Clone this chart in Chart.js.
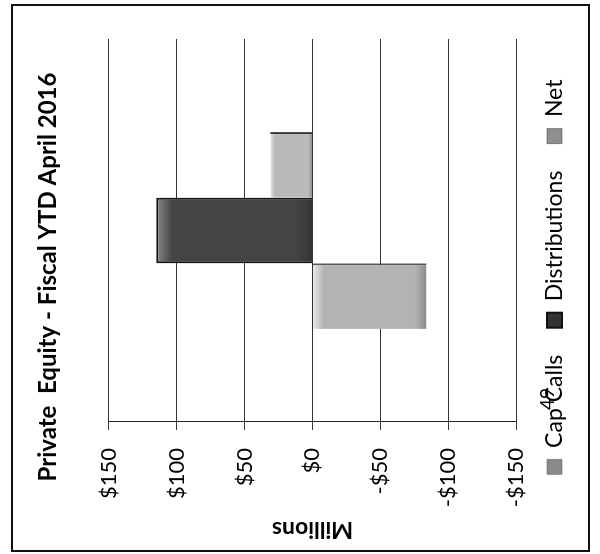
<!DOCTYPE html>
<html>
<head>
<meta charset="utf-8">
<script src="https://cdn.jsdelivr.net/npm/chart.js@4.4.1/dist/chart.umd.min.js"></script>
<style>
  html, body { margin: 0; padding: 0; background: #fff; }
  body { width: 600px; height: 554px; position: relative; overflow: hidden; }
  #frame {
    position: absolute; left: 11px; top: 4px; width: 579px; height: 548px;
    box-sizing: border-box; border: 2px solid #111;
  }
  /* the chart is an upright column chart turned a quarter left */
  #wrap {
    position: absolute; left: 23px; top: -23px; width: 554px; height: 600px;
    transform: rotate(-90deg);
  }
</style>
</head>
<body>
<div id="frame"></div>
<div id="wrap"><canvas id="pe" width="554" height="600"></canvas></div>
<script>
const titleText = "Private  Equity - Fiscal YTD April 2016";
const categories = [""];
const seriesNames = ["Cap Calls", "Distributions", "Net"];
const capCalls = [-84];
const distributions = [115];
const net = [31];
const tickValues = [-150, -100, -50, 0, 50, 100, 150];
const pageNote = "49";

const FONT = "Lato, 'DejaVu Sans', sans-serif";

// light strip at the far end, darker towards the zero line
function barFill(light, mid, dark) {
  return (c) => {
    const chart = c.chart;
    const y = chart.scales && chart.scales.y;
    if (!chart.chartArea || !y || c.raw === undefined) return mid;
    const v = c.raw;
    const a = y.getPixelForValue(Math.max(v, 0));
    const b = y.getPixelForValue(Math.min(v, 0));
    if (!isFinite(a) || !isFinite(b) || a === b) return mid;
    const g = chart.ctx.createLinearGradient(0, a, 0, b);
    g.addColorStop(0, light);
    g.addColorStop(0.1, mid);
    g.addColorStop(0.9, mid);
    g.addColorStop(1, dark);
    return g;
  };
}

const noteText = {
  id: "noteText",
  afterDraw(chart) {
    const { ctx, chartArea } = chart;
    ctx.save();
    ctx.font = "19px " + FONT;
    ctx.fillStyle = "#000";
    ctx.textAlign = "center";
    ctx.textBaseline = "middle";
    ctx.fillText(pageNote, chartArea.left + 23, chartArea.bottom + 32);
    ctx.restore();
  }
};

new Chart(document.getElementById("pe"), {
  type: "bar",
  data: {
    labels: categories,
    datasets: [
      {
        label: seriesNames[0], data: capCalls,
        backgroundColor: barFill("#ececec", "#b3b3b3", "#8a8a8a"),
        borderColor: "#555", borderWidth: { right: 2, top: 0, left: 0, bottom: 0 }
      },
      {
        label: seriesNames[1], data: distributions,
        backgroundColor: barFill("#8a8a8a", "#444", "#333"),
        borderColor: "#111", borderWidth: 2
      },
      {
        label: seriesNames[2], data: net,
        backgroundColor: barFill("#ececec", "#bababa", "#8f8f8f"),
        borderColor: "#333", borderWidth: { right: 2, top: 0, left: 0, bottom: 0 }
      }
    ]
  },
  options: {
    responsive: false,
    animation: false,
    devicePixelRatio: 1,
    layout: { padding: { left: 0, right: 0, top: 0, bottom: 24 } },
    datasets: { bar: { barPercentage: 1, categoryPercentage: 0.514 } },
    scales: {
      x: { display: false },
      y: {
        min: -150, max: 150,
        afterBuildTicks: (s) => { s.ticks = tickValues.map(v => ({ value: v })); },
        afterFit: (s) => { s.width = 132; },
        grid: { color: "#333", lineWidth: 1, tickLength: 8 },
        border: { color: "#222", width: 1 },
        ticks: {
          padding: 18, color: "#000",
          font: { family: FONT, size: 22 },
          callback: (v) => (v < 0 ? "-$" : "$") + Math.abs(v)
        },
        title: {
          display: true, text: "Millions", color: "#000",
          font: { family: FONT, size: 23, weight: "bold" },
          padding: { top: 11, bottom: 0 }
        }
      },
      y2: {
        position: "right", display: true,
        grid: { display: false, drawTicks: false },
        border: { display: false },
        ticks: { display: false },
        afterFit: (s) => { s.width = 39; }
      }
    },
    plugins: {
      title: {
        display: true, text: titleText, color: "#000",
        font: { family: FONT, size: 24, weight: "bold" },
        padding: { top: 34, bottom: 46 }
      },
      legend: {
        position: "bottom",
        labels: {
          color: "#000", boxWidth: 15, boxHeight: 15, padding: 27,
          font: { family: FONT, size: 23 }
        }
      },
      tooltip: { enabled: false }
    }
  },
  plugins: [noteText]
});
</script>
</body>
</html>
